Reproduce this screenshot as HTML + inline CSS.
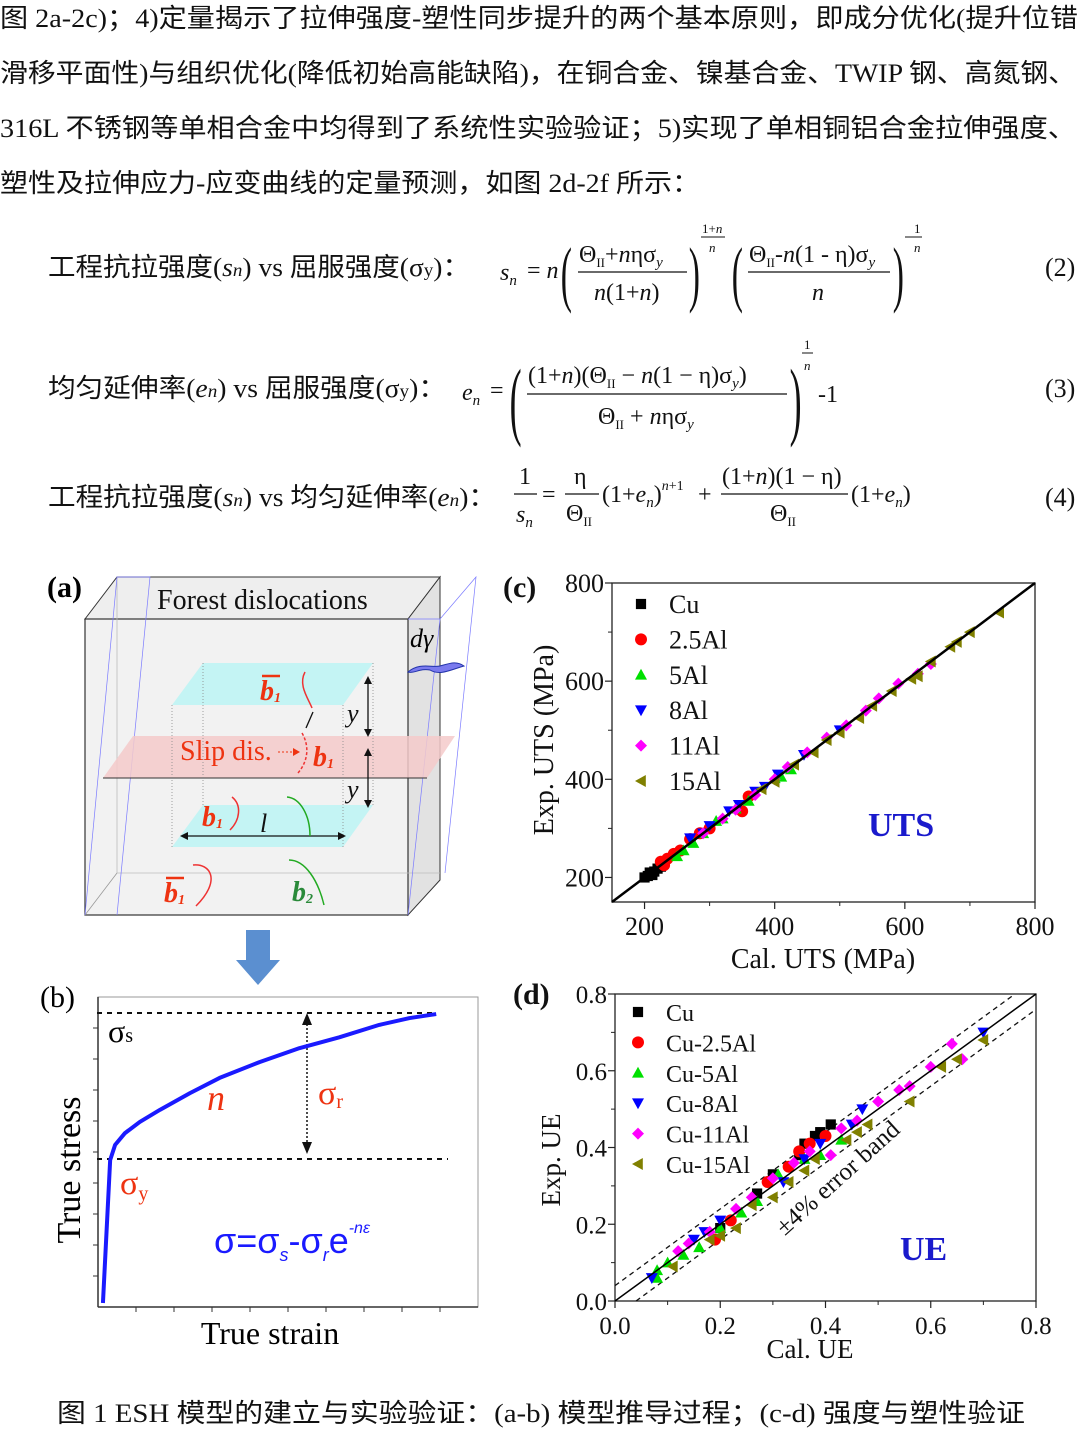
<!DOCTYPE html>
<html><head><meta charset="utf-8"><style>
html,body{margin:0;padding:0;background:#fff}
svg{display:block}
.t{font-family:"Liberation Serif","Noto Sans CJK SC",serif;}
.s{font-family:"Liberation Serif",serif;}
</style></head><body>
<svg id="root" width="1080" height="1434" viewBox="0 0 1080 1434" xmlns="http://www.w3.org/2000/svg">
<g class="t" font-size="26" fill="#111">
<text x="0" y="27" textLength="1078" lengthAdjust="spacingAndGlyphs">图 2a-2c)；4)定量揭示了拉伸强度-塑性同步提升的两个基本原则，即成分优化(提升位错</text>
<text x="0" y="82" textLength="1076" lengthAdjust="spacingAndGlyphs">滑移平面性)与组织优化(降低初始高能缺陷)，在铜合金、镍基合金、TWIP 钢、高氮钢、</text>
<text x="0" y="137" textLength="1076" lengthAdjust="spacingAndGlyphs">316L 不锈钢等单相合金中均得到了系统性实验验证；5)实现了单相铜铝合金拉伸强度、</text>
<text x="0" y="192" textLength="700" lengthAdjust="spacingAndGlyphs">塑性及拉伸应力-应变曲线的定量预测，如图 2d-2f 所示：</text>
</g>
<g class="t" font-size="26" fill="#111">
<text x="48" y="276" textLength="422" lengthAdjust="spacingAndGlyphs">工程抗拉强度(<tspan font-style="italic">s<tspan font-size="18">n</tspan></tspan>) vs 屈服强度(σ<tspan font-size="18">y</tspan>)：</text>
<text x="48" y="397" textLength="398" lengthAdjust="spacingAndGlyphs">均匀延伸率(<tspan font-style="italic">e<tspan font-size="18">n</tspan></tspan>) vs 屈服强度(σ<tspan font-size="18">y</tspan>)：</text>
<text x="48" y="506" textLength="448" lengthAdjust="spacingAndGlyphs">工程抗拉强度(<tspan font-style="italic">s<tspan font-size="18">n</tspan></tspan>) vs 均匀延伸率(<tspan font-style="italic">e<tspan font-size="18">n</tspan></tspan>)：</text>
<text x="1045" y="276">(2)</text>
<text x="1045" y="397">(3)</text>
<text x="1045" y="506">(4)</text>
</g>
<g class="s" font-size="24" fill="#111">
<text x="500" y="280" font-style="italic">s<tspan font-size="15" dy="5">n</tspan></text>
<text x="527" y="278">= <tspan font-style="italic">n</tspan></text>
<text x="560" y="292" font-size="56" transform="translate(562,272) scale(0.6,1.3) translate(-562,-272)">(</text>
<text x="579" y="262">Θ<tspan font-size="13" dy="5">II</tspan><tspan dy="-5">+</tspan><tspan font-style="italic">n</tspan>ησ<tspan font-size="15" dy="5" font-style="italic">y</tspan></text>
<line x1="578" y1="272" x2="687" y2="272" stroke="#111" stroke-width="1.3"/>
<text x="594" y="300"><tspan font-style="italic">n</tspan>(1+<tspan font-style="italic">n</tspan>)</text>
<text x="688" y="292" font-size="56" transform="translate(690,272) scale(0.6,1.3) translate(-690,-272)">)</text>
<text x="702" y="233" font-size="13">1+<tspan font-style="italic">n</tspan></text>
<line x1="701" y1="237" x2="725" y2="237" stroke="#111" stroke-width="1"/>
<text x="709" y="252" font-size="13" font-style="italic">n</text>
<text x="731" y="292" font-size="56" transform="translate(733,272) scale(0.6,1.3) translate(-733,-272)">(</text>
<text x="749" y="262">Θ<tspan font-size="13" dy="5">II</tspan><tspan dy="-5">-</tspan><tspan font-style="italic">n</tspan>(1 - η)σ<tspan font-size="15" dy="5" font-style="italic">y</tspan></text>
<line x1="748" y1="272" x2="890" y2="272" stroke="#111" stroke-width="1.3"/>
<text x="812" y="300" font-style="italic">n</text>
<text x="892" y="292" font-size="56" transform="translate(894,272) scale(0.6,1.3) translate(-894,-272)">)</text>
<line x1="905" y1="237" x2="912" y2="237" stroke="#111" stroke-width="1"/>
<text x="914" y="233" font-size="13">1</text>
<line x1="912" y1="237" x2="922" y2="237" stroke="#111" stroke-width="1"/>
<text x="914" y="252" font-size="13" font-style="italic">n</text>
</g>
<g class="s" font-size="24" fill="#111">
<text x="462" y="400" font-style="italic">e<tspan font-size="15" dy="5">n</tspan></text>
<text x="490" y="398">=</text>
<text x="508" y="418" font-size="60" transform="translate(512,394) scale(0.6,1.45) translate(-512,-394)">(</text>
<text x="528" y="383">(1+<tspan font-style="italic">n</tspan>)(Θ<tspan font-size="13" dy="5">II</tspan><tspan dy="-5"> − </tspan><tspan font-style="italic">n</tspan>(1 − η)σ<tspan font-size="15" dy="5" font-style="italic">y</tspan><tspan dy="-5">)</tspan></text>
<line x1="527" y1="394" x2="787" y2="394" stroke="#111" stroke-width="1.3"/>
<text x="598" y="424">Θ<tspan font-size="13" dy="5">II</tspan><tspan dy="-5"> + </tspan><tspan font-style="italic">n</tspan>ησ<tspan font-size="15" dy="5" font-style="italic">y</tspan></text>
<text x="788" y="418" font-size="60" transform="translate(792,394) scale(0.6,1.45) translate(-792,-394)">)</text>
<text x="804" y="349" font-size="13">1</text>
<line x1="802" y1="353" x2="813" y2="353" stroke="#111" stroke-width="1"/>
<text x="804" y="370" font-size="13" font-style="italic">n</text>
<text x="818" y="402">-1</text>
</g>
<g class="s" font-size="24" fill="#111">
<text x="519" y="484">1</text>
<line x1="514" y1="494" x2="537" y2="494" stroke="#111" stroke-width="1.3"/>
<text x="516" y="522" font-style="italic">s<tspan font-size="15" dy="5">n</tspan></text>
<text x="542" y="502">=</text>
<text x="574" y="484">η</text>
<line x1="565" y1="494" x2="599" y2="494" stroke="#111" stroke-width="1.3"/>
<text x="566" y="521">Θ<tspan font-size="13" dy="5">II</tspan></text>
<text x="602" y="502">(1+<tspan font-style="italic">e</tspan><tspan font-size="15" dy="5" font-style="italic">n</tspan><tspan dy="-5">)</tspan><tspan font-size="14" dy="-12" font-style="italic">n</tspan><tspan font-size="14">+1</tspan></text>
<text x="698" y="502" dy="0">+</text>
<text x="722" y="484">(1+<tspan font-style="italic">n</tspan>)(1 − η)</text>
<line x1="721" y1="494" x2="848" y2="494" stroke="#111" stroke-width="1.3"/>
<text x="770" y="521">Θ<tspan font-size="13" dy="5">II</tspan></text>
<text x="851" y="502">(1+<tspan font-style="italic">e</tspan><tspan font-size="15" dy="5" font-style="italic">n</tspan><tspan dy="-5">)</tspan></text>
</g>

<g>
<polygon points="85,619 117,577 440,577 408,619" fill="#eeeeee" stroke="#333" stroke-width="1"/>
<polygon points="408,619 440,577 440,880 408,915" fill="#e2e2e2" stroke="#333" stroke-width="1"/>
<rect x="85" y="619" width="323" height="296" fill="#f2f2f2" stroke="#333" stroke-width="1.2"/>
<line x1="117" y1="577" x2="117" y2="873" stroke="#bbb" stroke-width="0.8"/>
<line x1="117" y1="873" x2="440" y2="873" stroke="#bbb" stroke-width="0.8"/>
<line x1="85" y1="915" x2="117" y2="873" stroke="#999" stroke-width="0.8"/>
<polyline points="85,915 117,577 150,577 117,915" fill="none" stroke="#7b7bff" stroke-width="0.7"/>
<polyline points="408,915 440,619 476,577 445,873" fill="none" stroke="#7b7bff" stroke-width="0.7"/>
<line x1="440" y1="619" x2="408" y2="619" stroke="#7b7bff" stroke-width="0.7"/>
<polygon points="103,778 427,778 455,736 133,736" fill="#f4caca" opacity="0.85"/>
<line x1="103" y1="778" x2="427" y2="778" stroke="#333" stroke-width="1"/>
<polygon points="172,705 343,705 373,663 203,663" fill="#c4f4f4"/>
<polygon points="172,847 343,847 373,805 203,805" fill="#c4f4f4"/>
<g stroke="#888" stroke-width="0.8" stroke-dasharray="1,2" fill="none">
<line x1="172" y1="705" x2="172" y2="847"/><line x1="343" y1="705" x2="343" y2="847"/>
<line x1="203" y1="663" x2="203" y2="805"/><line x1="373" y1="663" x2="373" y2="805"/>
</g>
<path d="M408,672 C420,662 432,668 440,666 C448,664 456,660 464,666 C450,670 440,676 430,670 C420,668 414,674 408,672Z" fill="#7a7aee" stroke="#2233aa" stroke-width="1"/>
<g stroke="#111" stroke-width="1.3">
<line x1="368" y1="680" x2="368" y2="733"/><line x1="368" y1="752" x2="368" y2="804"/>
<line x1="183" y1="836" x2="343" y2="836"/>
<line x1="313" y1="712" x2="306" y2="728"/>
</g>
<g fill="#111"><polygon points="368,676 364,684 372,684"/><polygon points="368,737 364,729 372,729"/><polygon points="368,748 364,756 372,756"/><polygon points="368,808 364,800 372,800"/><polygon points="180,836 188,832 188,840"/><polygon points="346,836 338,832 338,840"/></g>
<g fill="none" stroke-width="1.5">
<path d="M305,672 C298,685 308,698 312,708" stroke="#e33"/>
<path d="M302,733 C309,745 309,760 298,773" stroke="#e33" stroke-dasharray="3,2"/>
<path d="M232,797 C242,805 240,820 230,830" stroke="#e33"/>
<path d="M287,797 C300,798 310,815 310,836" stroke="#2a2"/>
<path d="M193,865 C210,863 222,880 196,906" stroke="#e33"/>
<path d="M289,860 C305,860 318,880 324,905" stroke="#2a2"/>
</g>
<text x="47" y="597" class="s" font-size="30" font-weight="bold">(a)</text>
<text x="157" y="609" class="s" font-size="28" fill="#111">Forest dislocations</text>
<text x="410" y="647" class="s" font-size="26" font-style="italic">dγ</text>
<text x="180" y="760" class="s" font-size="28" fill="#e31">Slip dis.</text>
<line x1="278" y1="752" x2="296" y2="752" stroke="#e31" stroke-dasharray="2,2"/><polygon points="300,752 293,748 293,756" fill="#e31"/>
<g class="s" font-size="28" font-weight="bold" font-style="italic" fill="#e31">
<text x="260" y="700">b<tspan font-size="14" dy="2">1</tspan></text>
<line x1="262" y1="676" x2="280" y2="676" stroke="#e31" stroke-width="2.5"/>
<text x="313" y="766">b<tspan font-size="14" dy="2">1</tspan></text>
<text x="202" y="826">b<tspan font-size="14" dy="2">1</tspan></text>
<text x="164" y="902">b<tspan font-size="14" dy="2">1</tspan></text>
<line x1="166" y1="878" x2="184" y2="878" stroke="#e31" stroke-width="2.5"/>
<text x="292" y="901" fill="#2a8a3a">b<tspan font-size="14" dy="2">2</tspan></text>
</g>
<g class="s" font-size="26" font-style="italic" fill="#111"><text x="347" y="722">y</text><text x="347" y="798">y</text><text x="260" y="832">l</text></g>
</g>
<g><rect x="246" y="930" width="24" height="30" fill="#5b8fd0"/><polygon points="236,960 280,960 258,985" fill="#5b8fd0"/></g>

<g id="pb">
<rect x="98" y="997" width="380" height="310" fill="none" stroke="#999" stroke-width="1"/>
<line x1="98" y1="997" x2="98" y2="1307" stroke="#333" stroke-width="1.5"/>
<line x1="98" y1="1307" x2="478" y2="1307" stroke="#333" stroke-width="1.5"/>
<line x1="97" y1="1013" x2="437" y2="1013" stroke="#111" stroke-width="2" stroke-dasharray="5,5"/>
<line x1="97" y1="1159" x2="448" y2="1159" stroke="#111" stroke-width="2" stroke-dasharray="5,5"/>
<line x1="307" y1="1020" x2="307" y2="1148" stroke="#111" stroke-width="1.5" stroke-dasharray="2,2"/>
<polygon points="307,1013 302,1025 312,1025" fill="#111"/><polygon points="307,1154 302,1142 312,1142" fill="#111"/>
<text x="40" y="1007" class="s" font-size="30">(b)</text>
<text x="108" y="1042" class="s" font-size="32">σ<tspan font-size="20">s</tspan></text>
<text x="207" y="1110" class="s" font-size="36" font-style="italic" fill="#e31">n</text>
<text x="318" y="1104" class="s" font-size="34" fill="#e31">σ<tspan font-size="20" dy="4">r</tspan></text>
<text x="120" y="1194" class="s" font-size="34" fill="#e31">σ<tspan font-size="20" dy="6">y</tspan></text>
<text x="214" y="1253" font-family="Liberation Sans,sans-serif" font-size="36" fill="#1a1aff">σ=σ<tspan font-size="18" dy="8" font-style="italic">s</tspan><tspan dy="-8">-σ</tspan><tspan font-size="18" dy="8" font-style="italic">r</tspan><tspan dy="-8">e</tspan><tspan font-size="16" dy="-20" font-style="italic">-nε</tspan></text>
<text transform="translate(80,1170) rotate(-90)" text-anchor="middle" class="s" font-size="34">True  stress</text>
<text x="270" y="1344" text-anchor="middle" class="s" font-size="32">True strain</text>
</g>

<g id="pc"></g>
<g id="pd"></g>

<text x="57" y="1422" class="t" font-size="26" textLength="968" lengthAdjust="spacingAndGlyphs" fill="#111">图 1 ESH 模型的建立与实验验证：(a-b) 模型推导过程；(c-d) 强度与塑性验证</text>
</svg>
<script>
const bStrain=[0.013,0.032,0.045,0.071,0.11,0.163,0.242,0.32,0.425,0.53,0.635,0.74,0.82,0.89];
const bStress=[0.013,0.474,0.523,0.561,0.597,0.636,0.69,0.739,0.79,0.835,0.87,0.91,0.932,0.945];

const cSeries=["Cu","2.5Al","5Al","8Al","11Al","15Al"];
const cX=[[200,205,210,215,220,212,225,208],[225,235,245,255,270,285,300,350,360,230],[250,260,275,290,310,320,340,360,400,410,425],[270,290,300,330,345,370,385,405,445,500],[290,320,340,370,400,420,450,480,510,540,560,590,620,640],[380,400,430,460,480,500,530,550,580,610,620,640,670,680,700,745]];
const cY=[[200,203,208,212,218,205,222,210],[232,238,248,255,278,290,300,335,365,225],[243,255,270,290,315,320,340,356,402,405,420],[280,290,305,335,348,375,385,410,450,500],[290,320,338,368,400,425,455,485,510,540,565,595,615,635],[380,395,430,455,480,495,525,550,580,605,610,640,670,680,700,740]];
const cTicks=[200,400,600,800];
const dSeries=["Cu","Cu-2.5Al","Cu-5Al","Cu-8Al","Cu-11Al","Cu-15Al"];
const dX=[[0.2,0.27,0.3,0.36,0.38,0.39,0.41,0.35],[0.19,0.22,0.29,0.33,0.35,0.37,0.4],[0.08,0.08,0.1,0.13,0.16,0.2,0.24,0.27,0.31,0.36,0.39,0.43],[0.07,0.15,0.17,0.2,0.32,0.36,0.39,0.45,0.47,0.7],[0.12,0.14,0.18,0.23,0.26,0.3,0.34,0.37,0.41,0.43,0.46,0.5,0.54,0.56,0.6,0.64,0.66],[0.11,0.18,0.2,0.23,0.26,0.3,0.33,0.36,0.38,0.44,0.46,0.48,0.56,0.62,0.65,0.7]];
const dY=[[0.19,0.28,0.33,0.41,0.43,0.44,0.46,0.38],[0.16,0.21,0.31,0.35,0.39,0.41,0.43],[0.06,0.08,0.1,0.12,0.14,0.19,0.23,0.26,0.33,0.37,0.38,0.42],[0.06,0.16,0.18,0.21,0.31,0.37,0.41,0.46,0.5,0.7],[0.13,0.15,0.18,0.24,0.27,0.32,0.36,0.39,0.38,0.45,0.47,0.52,0.55,0.56,0.61,0.67,0.63],[0.09,0.16,0.17,0.19,0.25,0.27,0.31,0.34,0.37,0.42,0.44,0.46,0.52,0.61,0.63,0.68]];
const dTicks=["0.0","0.2","0.4","0.6","0.8"];
const dBand=0.04;

const NS="http://www.w3.org/2000/svg";
const colors=["#000","#f00","#00e000","#0000ff","#ff00ff","#808000"];
const shapes=["square","circle","up","down","diamond","left"];
function el(tag,attrs,parent){const e=document.createElementNS(NS,tag);for(const k in attrs)e.setAttribute(k,attrs[k]);parent.appendChild(e);return e;}
function marker(g,shape,x,y,c,r){
  let e;
  if(shape==="square")e=el("rect",{x:x-r*0.85,y:y-r*0.85,width:r*1.7,height:r*1.7,fill:c},g);
  else if(shape==="circle")e=el("circle",{cx:x,cy:y,r:r,fill:c},g);
  else{let p;
    if(shape==="up")p=[[x,y-r],[x+r,y+r*0.8],[x-r,y+r*0.8]];
    else if(shape==="down")p=[[x,y+r],[x+r,y-r*0.8],[x-r,y-r*0.8]];
    else if(shape==="diamond")p=[[x,y-r],[x+r,y],[x,y+r],[x-r,y]];
    else p=[[x-r,y],[x+r*0.8,y-r],[x+r*0.8,y+r]];
    e=el("polygon",{points:p.map(q=>q.join(",")).join(" "),fill:c},g);}
  return e;
}
(function(){
  const g=document.getElementById("pb");
  const L=98,R=478,T=997,B=1307;
  const sx=v=>L+v*(R-L), sy=v=>B-v*(B-T);
  let d="";bStrain.forEach((v,i)=>{d+=(i?"L":"M")+sx(v)+","+sy(bStress[i]);});
  const p=el("path",{d:d,fill:"none",stroke:"#1a1aff","stroke-width":4,"stroke-linejoin":"round"},g);
  
  
  for(let i=1;i<10;i++){el("line",{x1:L,y1:B-i*31,x2:L-5,y2:B-i*31,stroke:"#333"},g);}
  for(let i=1;i<10;i++){el("line",{x1:L+i*38,y1:B,x2:L+i*38,y2:B+5,stroke:"#333"},g);}
})();

function chart(gid,L,R,T,B,min,max,xs,ys,series,ticks,tickVals,minorVals,opts){
  const g=document.getElementById(gid);
  const sx=v=>L+(v-min)/(max-min)*(R-L), sy=v=>B-(v-min)/(max-min)*(B-T);
  el("rect",{x:L,y:T,width:R-L,height:B-T,fill:"none",stroke:"#222","stroke-width":1.3},g);
  tickVals.forEach((v,i)=>{
    el("line",{x1:sx(v),y1:B,x2:sx(v),y2:B+7,stroke:"#222","stroke-width":1.2},g);
    el("line",{x1:L,y1:sy(v),x2:L-7,y2:sy(v),stroke:"#222","stroke-width":1.2},g);
    const tx=el("text",{x:sx(v),y:B+opts.xlab,"text-anchor":"middle","font-size":opts.fs,"font-family":"Liberation Serif,serif",fill:"#111"},g);tx.textContent=ticks[i];
    
    
    const ty=el("text",{x:L-8,y:sy(v)+9,"text-anchor":"end","font-size":opts.fs,"font-family":"Liberation Serif,serif",fill:"#111"},g);ty.textContent=ticks[i];
    
    
  });
  minorVals.forEach(v=>{
    el("line",{x1:sx(v),y1:B,x2:sx(v),y2:B+4,stroke:"#222"},g);
    el("line",{x1:L,y1:sy(v),x2:L-4,y2:sy(v),stroke:"#222"},g);
  });
  if(opts.band!==undefined){
    const b=opts.band;
    [[min,min+b,max-b,max],[min+b,min,max,max-b]].forEach(q=>{
      el("line",{x1:sx(q[0]),y1:sy(q[1]),x2:sx(q[2]),y2:sy(q[3]),stroke:"#111","stroke-width":1.3,"stroke-dasharray":"5,4"},g);
    });
  }
  const gm=el("g",{},g);
  series.forEach((s,k)=>{
    xs[k].forEach((x,i)=>{
      const m=marker(gm,shapes[k],sx(x),sy(ys[k][i]),colors[k],opts.r);
      
      
    });
  });
  const dl=el("line",{x1:sx(min),y1:sy(min),x2:sx(max),y2:sy(max),stroke:"#000","stroke-width":opts.lw},g);
  
  
  series.forEach((s,k)=>{
    const y=opts.legY+k*opts.legDy;
    const m=marker(g,shapes[k],opts.legX,y,colors[k],6);
    
    
    const t=el("text",{x:opts.legX+28,y:y+9,"font-size":opts.legFs,"font-family":"Liberation Serif,serif",fill:"#111"},g);t.textContent=s;
    
    
  });
  return {g,sx,sy};
}
const c=chart("pc",612,1035,583,902,150,800,cX,cY,cSeries,cTicks.map(String),cTicks,[300,500,700],{xlab:33,fs:26,r:6,lw:2.5,legX:641,legY:604,legDy:35.4,legFs:26});
const d=chart("pd",615,1036,994,1301,0,0.8,dX,dY,dSeries,dTicks,[0,0.2,0.4,0.6,0.8],[0.1,0.3,0.5,0.7],{xlab:33,fs:25,r:6,lw:1.5,band:dBand,legX:638,legY:1012,legDy:30.4,legFs:24});
function txt(g,attrs,s,name){const t=el("text",Object.assign({"font-family":"Liberation Serif,serif",fill:"#111"},attrs),g);t.textContent=s;return t;}
txt(c.g,{x:503,y:597,"font-size":30,"font-weight":"bold"},"(c)","panel-c-label");
txt(c.g,{x:868,y:836,"font-size":34,"font-weight":"bold",fill:"#1a1acc"},"UTS","uts-annotation");
txt(c.g,{transform:"translate(553,740) rotate(-90)","text-anchor":"middle","font-size":28},"Exp. UTS (MPa)","y-axis-title-c");
txt(c.g,{x:823,y:968,"text-anchor":"middle","font-size":28},"Cal. UTS (MPa)","x-axis-title-c");
txt(d.g,{x:513,y:1004,"font-size":30,"font-weight":"bold"},"(d)","panel-d-label");
txt(d.g,{x:900,y:1260,"font-size":34,"font-weight":"bold",fill:"#1a1acc"},"UE","ue-annotation");
txt(d.g,{transform:"translate(560,1160) rotate(-90)","text-anchor":"middle","font-size":27},"Exp. UE","y-axis-title-d");
txt(d.g,{x:810,y:1358,"text-anchor":"middle","font-size":27},"Cal. UE","x-axis-title-d");
txt(d.g,{transform:"translate(843,1184) rotate(-42)","text-anchor":"middle","font-size":25},"±4% error band","error-band-label");
</script>
</body></html>
